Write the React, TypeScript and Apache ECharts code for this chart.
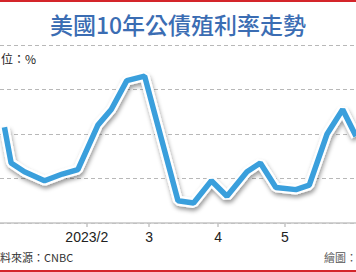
import React, { useEffect, useRef } from "react";
import * as echarts from "echarts";

const title = "美國10年公債殖利率走勢";
const unitText = "位：%";
const sourceText = "料來源：CNBC";
const creditText = "繪圖：";

const axisStart = "2022-12-24";
const axisEnd = "2023-06-02";

const dates = [
  "2022-12-26", "2022-12-29", "2023-01-04", "2023-01-13", "2023-01-21", "2023-01-28",
  "2023-02-06", "2023-02-12", "2023-02-19", "2023-02-27", "2023-03-14", "2023-03-21",
  "2023-03-29", "2023-04-05", "2023-04-14", "2023-04-20", "2023-04-27", "2023-05-06",
  "2023-05-12", "2023-05-20", "2023-05-27", "2023-06-02",
];
const yields = [
  3.83, 3.67, 3.63, 3.59, 3.62, 3.64,
  3.84, 3.91, 4.04, 4.06, 3.5, 3.49,
  3.59, 3.52, 3.63, 3.67, 3.56, 3.55,
  3.57, 3.8, 3.91, 3.79,
];
const labelledMonths = ["02", "03", "04", "05"];

const yMin = 3.4;
const yMax = 4.2;
const yStep = 0.2;

function buildCategories(start: string, end: string): string[] {
  const out: string[] = [];
  const d = new Date(start + "T00:00:00Z");
  const e = new Date(end + "T00:00:00Z");
  while (d.getTime() <= e.getTime()) {
    out.push(d.toISOString().slice(0, 10));
    d.setUTCDate(d.getUTCDate() + 1);
  }
  return out;
}

function isMonthTick(value: string): boolean {
  return value.endsWith("-01") && labelledMonths.includes(value.slice(5, 7));
}

function monthLabel(value: string): string {
  const y = value.slice(0, 4);
  const m = parseInt(value.slice(5, 7), 10);
  return m === 2 ? `${y}/${m}` : `${m}`;
}

export default function App() {
  const ref = useRef<HTMLDivElement>(null);
  useEffect(() => {
    if (!ref.current) return;
    const chart = echarts.init(ref.current, undefined, { renderer: "svg" });
    const categories = buildCategories(axisStart, axisEnd);
    const seriesData = dates.map((d, i) => [d, yields[i]]);
    chart.setOption({
      animation: false,
      backgroundColor: "#ffffff",
      grid: { left: 0, right: 0, top: 45, bottom: 49, containLabel: false },
      xAxis: {
        type: "category",
        data: categories,
        boundaryGap: false,
        axisLine: { show: true, lineStyle: { color: "#c4c4c4", width: 1.5 } },
        axisTick: {
          show: true,
          length: 4,
          interval: (_i: number, v: string) => isMonthTick(v),
          lineStyle: { color: "#c4c4c4", width: 1.5 },
        },
        axisLabel: {
          interval: (_i: number, v: string) => isMonthTick(v),
          formatter: (v: string) => monthLabel(v),
          color: "#222",
          fontSize: 14,
          fontFamily: "Liberation Sans",
          margin: 7,
        },
        splitLine: { show: false },
      },
      yAxis: {
        type: "value",
        min: yMin,
        max: yMax,
        interval: yStep,
        axisLine: { show: false },
        axisTick: { show: false },
        axisLabel: { show: false },
        splitLine: { show: true, lineStyle: { color: "#b8b8b8", type: [4, 3], width: 1 } },
      },
      series: [
        {
          type: "line",
          data: seriesData,
          symbol: "none",
          silent: true,
          z: 2,
          lineStyle: {
            color: "#ffffff",
            width: 10,
            shadowColor: "rgba(0,0,0,0.4)",
            shadowBlur: 4,
            shadowOffsetX: 1,
            shadowOffsetY: 3,
          },
        },
        {
          type: "line",
          data: seriesData,
          symbol: "none",
          silent: true,
          z: 3,
          lineStyle: { color: "#3a9fdc", width: 5.5 },
        },
      ],
      graphic: [
        { type: "rect", shape: { x: 0, y: 0, width: 356, height: 2 }, style: { fill: "#d4252a" }, z: 10 },
        { type: "rect", shape: { x: 0, y: 270, width: 356, height: 2 }, style: { fill: "#d4252a" }, z: 10 },
        {
          type: "text",
          x: 178,
          y: 24,
          style: {
            text: title,
            fill: "#3b6db3",
            font: "500 23px 'Noto Sans CJK TC'",
            align: "center",
            verticalAlign: "middle",
          },
        },
        {
          type: "text",
          x: 1,
          y: 58,
          style: {
            text: unitText,
            fill: "#222",
            font: "12px 'Noto Sans CJK TC'",
            align: "left",
            verticalAlign: "middle",
          },
        },
        {
          type: "text",
          x: 0,
          y: 257,
          style: {
            text: sourceText,
            fill: "#333",
            font: "11px 'Noto Sans CJK TC'",
            align: "left",
            verticalAlign: "middle",
          },
        },
        {
          type: "text",
          x: 324,
          y: 257,
          style: {
            text: creditText,
            fill: "#555",
            font: "11px 'Noto Sans CJK TC'",
            align: "left",
            verticalAlign: "middle",
          },
        },
      ],
    });
    return () => chart.dispose();
  }, []);
  return (
    <div
      ref={ref}
      style={{ position: "fixed", left: 0, top: 0, width: 356, height: 272, overflow: "hidden" }}
    />
  );
}
